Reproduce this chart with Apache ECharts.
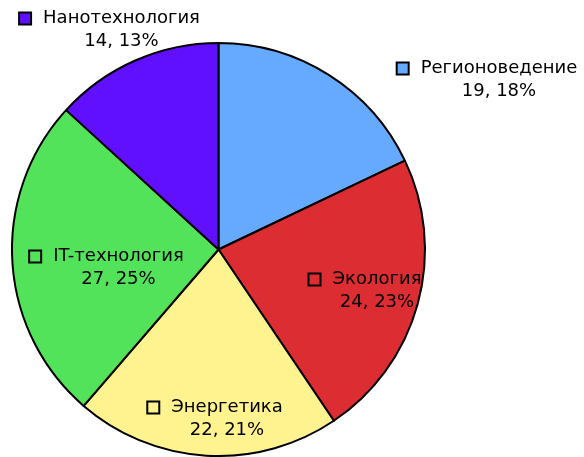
<!DOCTYPE html>
<html>
<head>
<meta charset="utf-8">
<script src="https://cdn.jsdelivr.net/npm/echarts@6/dist/echarts.min.js"></script>
<style>html,body{margin:0;padding:0;background:#fff}#c{width:584px;height:457px}</style>
</head>
<body>
<div id="c"></div>
<script>
var categories = ['Регионоведение', 'Экология', 'Энергетика', 'IT-технология', 'Нанотехнология'];
var values = [19, 24, 22, 27, 14];
var colors = ['#66aaff', '#dc2d33', '#fff38f', '#52e35b', '#6010ff'];
var labelInside = [false, true, true, true, false];
var labelCenters = [[487.5, 80], [365.5, 291], [215.5, 419], [107, 268], [110, 30]];

var total = values.reduce(function (a, b) { return a + b; }, 0);
var FONT = 'DejaVu Sans';
var FS = 18;
var LH = 23;

var data = categories.map(function (name, i) {
  return {
    name: name,
    value: values[i],
    itemStyle: { color: colors[i] },
    label: {
      position: labelInside[i] ? 'inside' : 'outside',
      rich: {
        m: { width: 10, height: 10, backgroundColor: colors[i], borderColor: '#000', borderWidth: 2, verticalAlign: 'middle' }
      }
    }
  };
});

var chart = echarts.init(document.getElementById('c'), null, { renderer: 'canvas' });
chart.setOption({
  animation: false,
  backgroundColor: '#ffffff',
  series: [{
    type: 'pie',
    center: [218.5, 249.5],
    radius: 206.5,
    startAngle: 90,
    clockwise: true,
    avoidLabelOverlap: false,
    itemStyle: { borderColor: '#000', borderWidth: 2 },
    emphasis: { disabled: true },
    labelLine: { show: false },
    label: {
      show: true,
      color: '#000',
      fontFamily: FONT,
      fontSize: FS,
      lineHeight: LH,
      align: 'center',
      formatter: function (p) {
        var pct = Math.round(p.value / total * 100);
        return '{m|}{s|}{n|' + p.name + '}\n{v|' + p.value + ', ' + pct + '%}';
      },
      rich: {
        s: { width: 13, height: 10 },
        n: { fontFamily: FONT, fontSize: FS, color: '#000', lineHeight: LH, verticalAlign: 'middle' },
        v: { fontFamily: FONT, fontSize: FS, color: '#000', lineHeight: LH, padding: [0, 0, 0, 23] }
      }
    },
    labelLayout: function (params) {
      var c = labelCenters[params.dataIndex];
      return { x: c[0], y: c[1], align: 'center', verticalAlign: 'middle', hideOverlap: false };
    },
    data: data
  }]
});
</script>
</body>
</html>
